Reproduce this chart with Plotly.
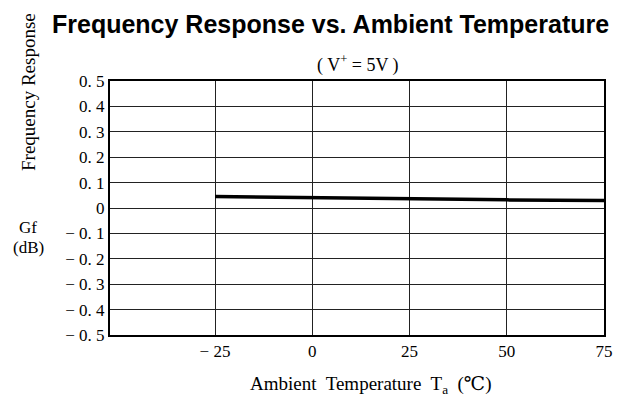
import plotly.graph_objects as go

# Data
temps = [-25, 0, 25, 50, 75]
gain_db = [0.045, 0.040, 0.035, 0.032, 0.030]

x_tick_vals = [-25, 0, 25, 50, 75]
x_tick_text = ["− 25", "0", "25", "50", "75"]
y_tick_vals = [0.5, 0.4, 0.3, 0.2, 0.1, 0, -0.1, -0.2, -0.3, -0.4, -0.5]
y_tick_text = ["0. 5", "0. 4", "0. 3", "0. 2", "0. 1", "0",
               "− 0. 1", "− 0. 2", "− 0. 3", "− 0. 4", "− 0. 5"]

serif = "Liberation Serif, DejaVu Serif, serif"

# the page body adds an 8px offset; compensate
OFF = 8
W, H = 638 - OFF, 405 - OFF
l, r, t, b = 110 - OFF, 34, 81 - OFF, 70
pw, ph = W - l - r, H - t - b


def px_x(px):
    return (px - OFF - l) / pw


def px_y(py):
    return 1 - (py - OFF - t) / ph


fig = go.Figure()
fig.add_trace(go.Scatter(x=temps, y=gain_db, mode="lines",
                         line=dict(color="black", width=3.5),
                         showlegend=False, hoverinfo="skip"))

fig.update_layout(
    width=W, height=H,
    margin=dict(l=l, r=r, t=t, b=b, autoexpand=False),
    paper_bgcolor="white", plot_bgcolor="white",
    xaxis=dict(range=[-52, 75], tickvals=x_tick_vals, ticktext=x_tick_text,
               showgrid=True, gridcolor="#222", gridwidth=1,
               showline=True, linecolor="black", linewidth=2, mirror=True,
               zeroline=False, ticks="", ticklen=0, automargin=False,
               tickfont=dict(family=serif, size=17, color="black")),
    yaxis=dict(range=[-0.5, 0.5], tickvals=y_tick_vals, ticktext=y_tick_text,
               showgrid=True, gridcolor="#222", gridwidth=1,
               showline=True, linecolor="black", linewidth=2, mirror=True,
               zeroline=False, ticks="", ticklen=0, automargin=False,
               tickfont=dict(family=serif, size=17, color="black")),
    annotations=[
        dict(text="<b>Frequency Response vs. Ambient Temperature</b>",
             x=px_x(50), y=px_y(8), xanchor="left", yanchor="top",
             font=dict(family="Liberation Sans, Arial, sans-serif", size=25, color="black")),
        dict(text="Frequency Response", textangle=-90, x=px_x(28), y=px_y(92),
             xanchor="center", yanchor="middle",
             font=dict(family=serif, size=19, color="black")),
        dict(text="Gf", x=px_x(28), y=px_y(227), xanchor="center", yanchor="middle",
             font=dict(family=serif, size=17, color="black")),
        dict(text="(dB)", x=px_x(28), y=px_y(247), xanchor="center", yanchor="middle",
             font=dict(family=serif, size=17, color="black")),
        dict(text="( V<sup>+</sup> = 5V )", x=px_x(358), y=px_y(64),
             xanchor="center", yanchor="middle",
             font=dict(family=serif, size=18, color="black")),
        dict(text="Ambient  Temperature  T<sub>a</sub>  (℃)", x=px_x(370), y=px_y(385),
             xanchor="center", yanchor="middle",
             font=dict(family=serif, size=19, color="black")),
    ],
)
for a in fig.layout.annotations:
    a.xref = "paper"
    a.yref = "paper"
    a.showarrow = False

fig.write_html("out.html")
